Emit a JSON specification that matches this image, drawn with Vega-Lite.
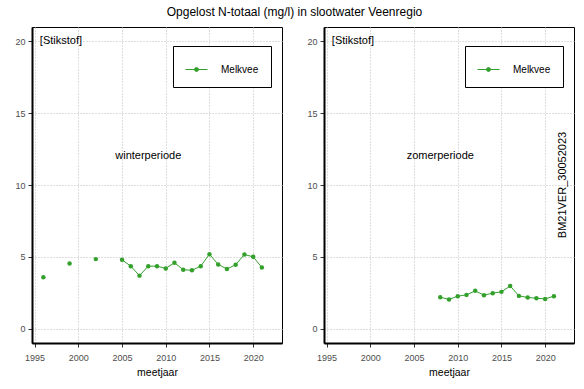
{
  "$schema": "https://vega.github.io/schema/vega-lite/v6.json",
  "padding": {"left": 14, "top": 5, "right": 5, "bottom": 5},
  "background": "white",
  "title": {"text": "Opgelost N-totaal (mg/l) in slootwater Veenregio", "fontSize": 12, "font": "Liberation Sans", "fontWeight": "normal", "color": "black", "anchor": "middle", "offset": 8},
  "config": {
    "font": "Liberation Sans",
    "view": {"stroke": "black", "strokeWidth": 1},
    "axis": {
      "grid": true, "gridColor": "#bdbdbd", "gridDash": [1, 2], "gridWidth": 1,
      "domainColor": "black", "domainWidth": 2,
      "tickColor": "#333333", "tickSize": 4, "tickWidth": 1,
      "labelColor": "#4d4d4d", "labelFontSize": 9, "labelFont": "Liberation Sans", "labelPadding": 3,
      "titleFont": "Liberation Sans", "titleFontWeight": "normal", "titleFontSize": 10.5, "titleColor": "black", "titlePadding": 4
    },
    "axisX": {"labelPadding": 6, "titlePadding": 5},
    "legend": {
      "title": null, "orient": "none", "legendX": 141, "legendY": 19,
      "strokeColor": "black", "fillColor": "white", "padding": 12,
      "labelFontSize": 10, "labelFont": "Liberation Sans", "labelColor": "black", "labelOffset": 13,
      "symbolType": "M-1,0L1,0M-0.18,0A0.18,0.18 0 1,0 0.18,0A0.18,0.18 0 1,0 -0.18,0Z",
      "symbolSize": 484, "symbolStrokeWidth": 1, "symbolFillColor": "#33a02c", "symbolStrokeColor": "#33a02c"
    }
  },
  "datasets": {
    "winter": [
      {"meetjaar": 1996, "waarde": 3.57, "sector": "Melkvee"},
      {"meetjaar": 1997, "waarde": null, "sector": "Melkvee"},
      {"meetjaar": 1998, "waarde": null, "sector": "Melkvee"},
      {"meetjaar": 1999, "waarde": 4.54, "sector": "Melkvee"},
      {"meetjaar": 2000, "waarde": null, "sector": "Melkvee"},
      {"meetjaar": 2001, "waarde": null, "sector": "Melkvee"},
      {"meetjaar": 2002, "waarde": 4.84, "sector": "Melkvee"},
      {"meetjaar": 2003, "waarde": null, "sector": "Melkvee"},
      {"meetjaar": 2004, "waarde": null, "sector": "Melkvee"},
      {"meetjaar": 2005, "waarde": 4.79, "sector": "Melkvee"},
      {"meetjaar": 2006, "waarde": 4.35, "sector": "Melkvee"},
      {"meetjaar": 2007, "waarde": 3.69, "sector": "Melkvee"},
      {"meetjaar": 2008, "waarde": 4.35, "sector": "Melkvee"},
      {"meetjaar": 2009, "waarde": 4.35, "sector": "Melkvee"},
      {"meetjaar": 2010, "waarde": 4.19, "sector": "Melkvee"},
      {"meetjaar": 2011, "waarde": 4.59, "sector": "Melkvee"},
      {"meetjaar": 2012, "waarde": 4.10, "sector": "Melkvee"},
      {"meetjaar": 2013, "waarde": 4.06, "sector": "Melkvee"},
      {"meetjaar": 2014, "waarde": 4.35, "sector": "Melkvee"},
      {"meetjaar": 2015, "waarde": 5.18, "sector": "Melkvee"},
      {"meetjaar": 2016, "waarde": 4.47, "sector": "Melkvee"},
      {"meetjaar": 2017, "waarde": 4.15, "sector": "Melkvee"},
      {"meetjaar": 2018, "waarde": 4.45, "sector": "Melkvee"},
      {"meetjaar": 2019, "waarde": 5.16, "sector": "Melkvee"},
      {"meetjaar": 2020, "waarde": 5.00, "sector": "Melkvee"},
      {"meetjaar": 2021, "waarde": 4.26, "sector": "Melkvee"}
    ],
    "zomer": [
      {"meetjaar": 2008, "waarde": 2.19, "sector": "Melkvee"},
      {"meetjaar": 2009, "waarde": 2.03, "sector": "Melkvee"},
      {"meetjaar": 2010, "waarde": 2.26, "sector": "Melkvee"},
      {"meetjaar": 2011, "waarde": 2.35, "sector": "Melkvee"},
      {"meetjaar": 2012, "waarde": 2.63, "sector": "Melkvee"},
      {"meetjaar": 2013, "waarde": 2.33, "sector": "Melkvee"},
      {"meetjaar": 2014, "waarde": 2.47, "sector": "Melkvee"},
      {"meetjaar": 2015, "waarde": 2.56, "sector": "Melkvee"},
      {"meetjaar": 2016, "waarde": 2.97, "sector": "Melkvee"},
      {"meetjaar": 2017, "waarde": 2.28, "sector": "Melkvee"},
      {"meetjaar": 2018, "waarde": 2.17, "sector": "Melkvee"},
      {"meetjaar": 2019, "waarde": 2.12, "sector": "Melkvee"},
      {"meetjaar": 2020, "waarde": 2.07, "sector": "Melkvee"},
      {"meetjaar": 2021, "waarde": 2.26, "sector": "Melkvee"}
    ],
    "labels_winter": [
      {"x": 1995.6, "y": 20, "label": "[Stikstof]", "kind": "param"},
      {"x": 2008, "y": 12, "label": "winterperiode", "kind": "periode"}
    ],
    "labels_zomer": [
      {"x": 1995.6, "y": 20, "label": "[Stikstof]", "kind": "param"},
      {"x": 2008, "y": 12, "label": "zomerperiode", "kind": "periode"},
      {"x": 2022, "y": 10, "label": "BM21VER_30052023", "kind": "code"}
    ]
  },
  "hconcat": [
    {
      "width": 250, "height": 316,
      "layer": [
        {
          "data": {"name": "winter"},
          "mark": {"type": "line", "strokeWidth": 1, "clip": true},
          "encoding": {
            "x": {"field": "meetjaar", "type": "quantitative", "scale": {"domain": [1994.7, 2023.3], "nice": false, "zero": false}, "axis": {"values": [1995, 2000, 2005, 2010, 2015, 2020], "format": "d", "title": "meetjaar"}},
            "y": {"field": "waarde", "type": "quantitative", "scale": {"domain": [-1, 21], "nice": false, "zero": false}, "axis": {"values": [0, 5, 10, 15, 20], "title": null}},
            "color": {"field": "sector", "type": "nominal", "scale": {"range": ["#33a02c"]}}
          }
        },
        {
          "data": {"name": "winter"},
          "mark": {"type": "point", "filled": true, "opacity": 1, "size": 20, "color": "#33a02c"},
          "encoding": {
            "x": {"field": "meetjaar", "type": "quantitative"},
            "y": {"field": "waarde", "type": "quantitative"}
          }
        },
        {
          "data": {"name": "labels_winter"},
          "transform": [{"filter": "datum.kind == 'param'"}],
          "mark": {"type": "text", "align": "left", "baseline": "middle", "fontSize": 11, "color": "black"},
          "encoding": {"x": {"field": "x", "type": "quantitative"}, "y": {"field": "y", "type": "quantitative"}, "text": {"field": "label"}}
        },
        {
          "data": {"name": "labels_winter"},
          "transform": [{"filter": "datum.kind == 'periode'"}],
          "mark": {"type": "text", "align": "center", "baseline": "middle", "fontSize": 11, "color": "black"},
          "encoding": {"x": {"field": "x", "type": "quantitative"}, "y": {"field": "y", "type": "quantitative"}, "text": {"field": "label"}}
        }
      ]
    },
    {
      "width": 250, "height": 316,
      "layer": [
        {
          "data": {"name": "zomer"},
          "mark": {"type": "line", "strokeWidth": 1, "clip": true},
          "encoding": {
            "x": {"field": "meetjaar", "type": "quantitative", "scale": {"domain": [1994.7, 2023.3], "nice": false, "zero": false}, "axis": {"values": [1995, 2000, 2005, 2010, 2015, 2020], "format": "d", "title": "meetjaar"}},
            "y": {"field": "waarde", "type": "quantitative", "scale": {"domain": [-1, 21], "nice": false, "zero": false}, "axis": {"values": [0, 5, 10, 15, 20], "title": null}},
            "color": {"field": "sector", "type": "nominal", "scale": {"range": ["#33a02c"]}}
          }
        },
        {
          "data": {"name": "zomer"},
          "mark": {"type": "point", "filled": true, "opacity": 1, "size": 20, "color": "#33a02c"},
          "encoding": {
            "x": {"field": "meetjaar", "type": "quantitative"},
            "y": {"field": "waarde", "type": "quantitative"}
          }
        },
        {
          "data": {"name": "labels_zomer"},
          "transform": [{"filter": "datum.kind == 'param'"}],
          "mark": {"type": "text", "align": "left", "baseline": "middle", "fontSize": 11, "color": "black"},
          "encoding": {"x": {"field": "x", "type": "quantitative"}, "y": {"field": "y", "type": "quantitative"}, "text": {"field": "label"}}
        },
        {
          "data": {"name": "labels_zomer"},
          "transform": [{"filter": "datum.kind == 'periode'"}],
          "mark": {"type": "text", "align": "center", "baseline": "middle", "fontSize": 11, "color": "black"},
          "encoding": {"x": {"field": "x", "type": "quantitative"}, "y": {"field": "y", "type": "quantitative"}, "text": {"field": "label"}}
        },
        {
          "data": {"name": "labels_zomer"},
          "transform": [{"filter": "datum.kind == 'code'"}],
          "mark": {"type": "text", "align": "center", "baseline": "middle", "angle": 270, "fontSize": 11, "color": "black"},
          "encoding": {"x": {"field": "x", "type": "quantitative"}, "y": {"field": "y", "type": "quantitative"}, "text": {"field": "label"}}
        }
      ]
    }
  ],
  "spacing": 23,
  "resolve": {"scale": {"color": "independent"}, "legend": {"color": "independent"}}
}
